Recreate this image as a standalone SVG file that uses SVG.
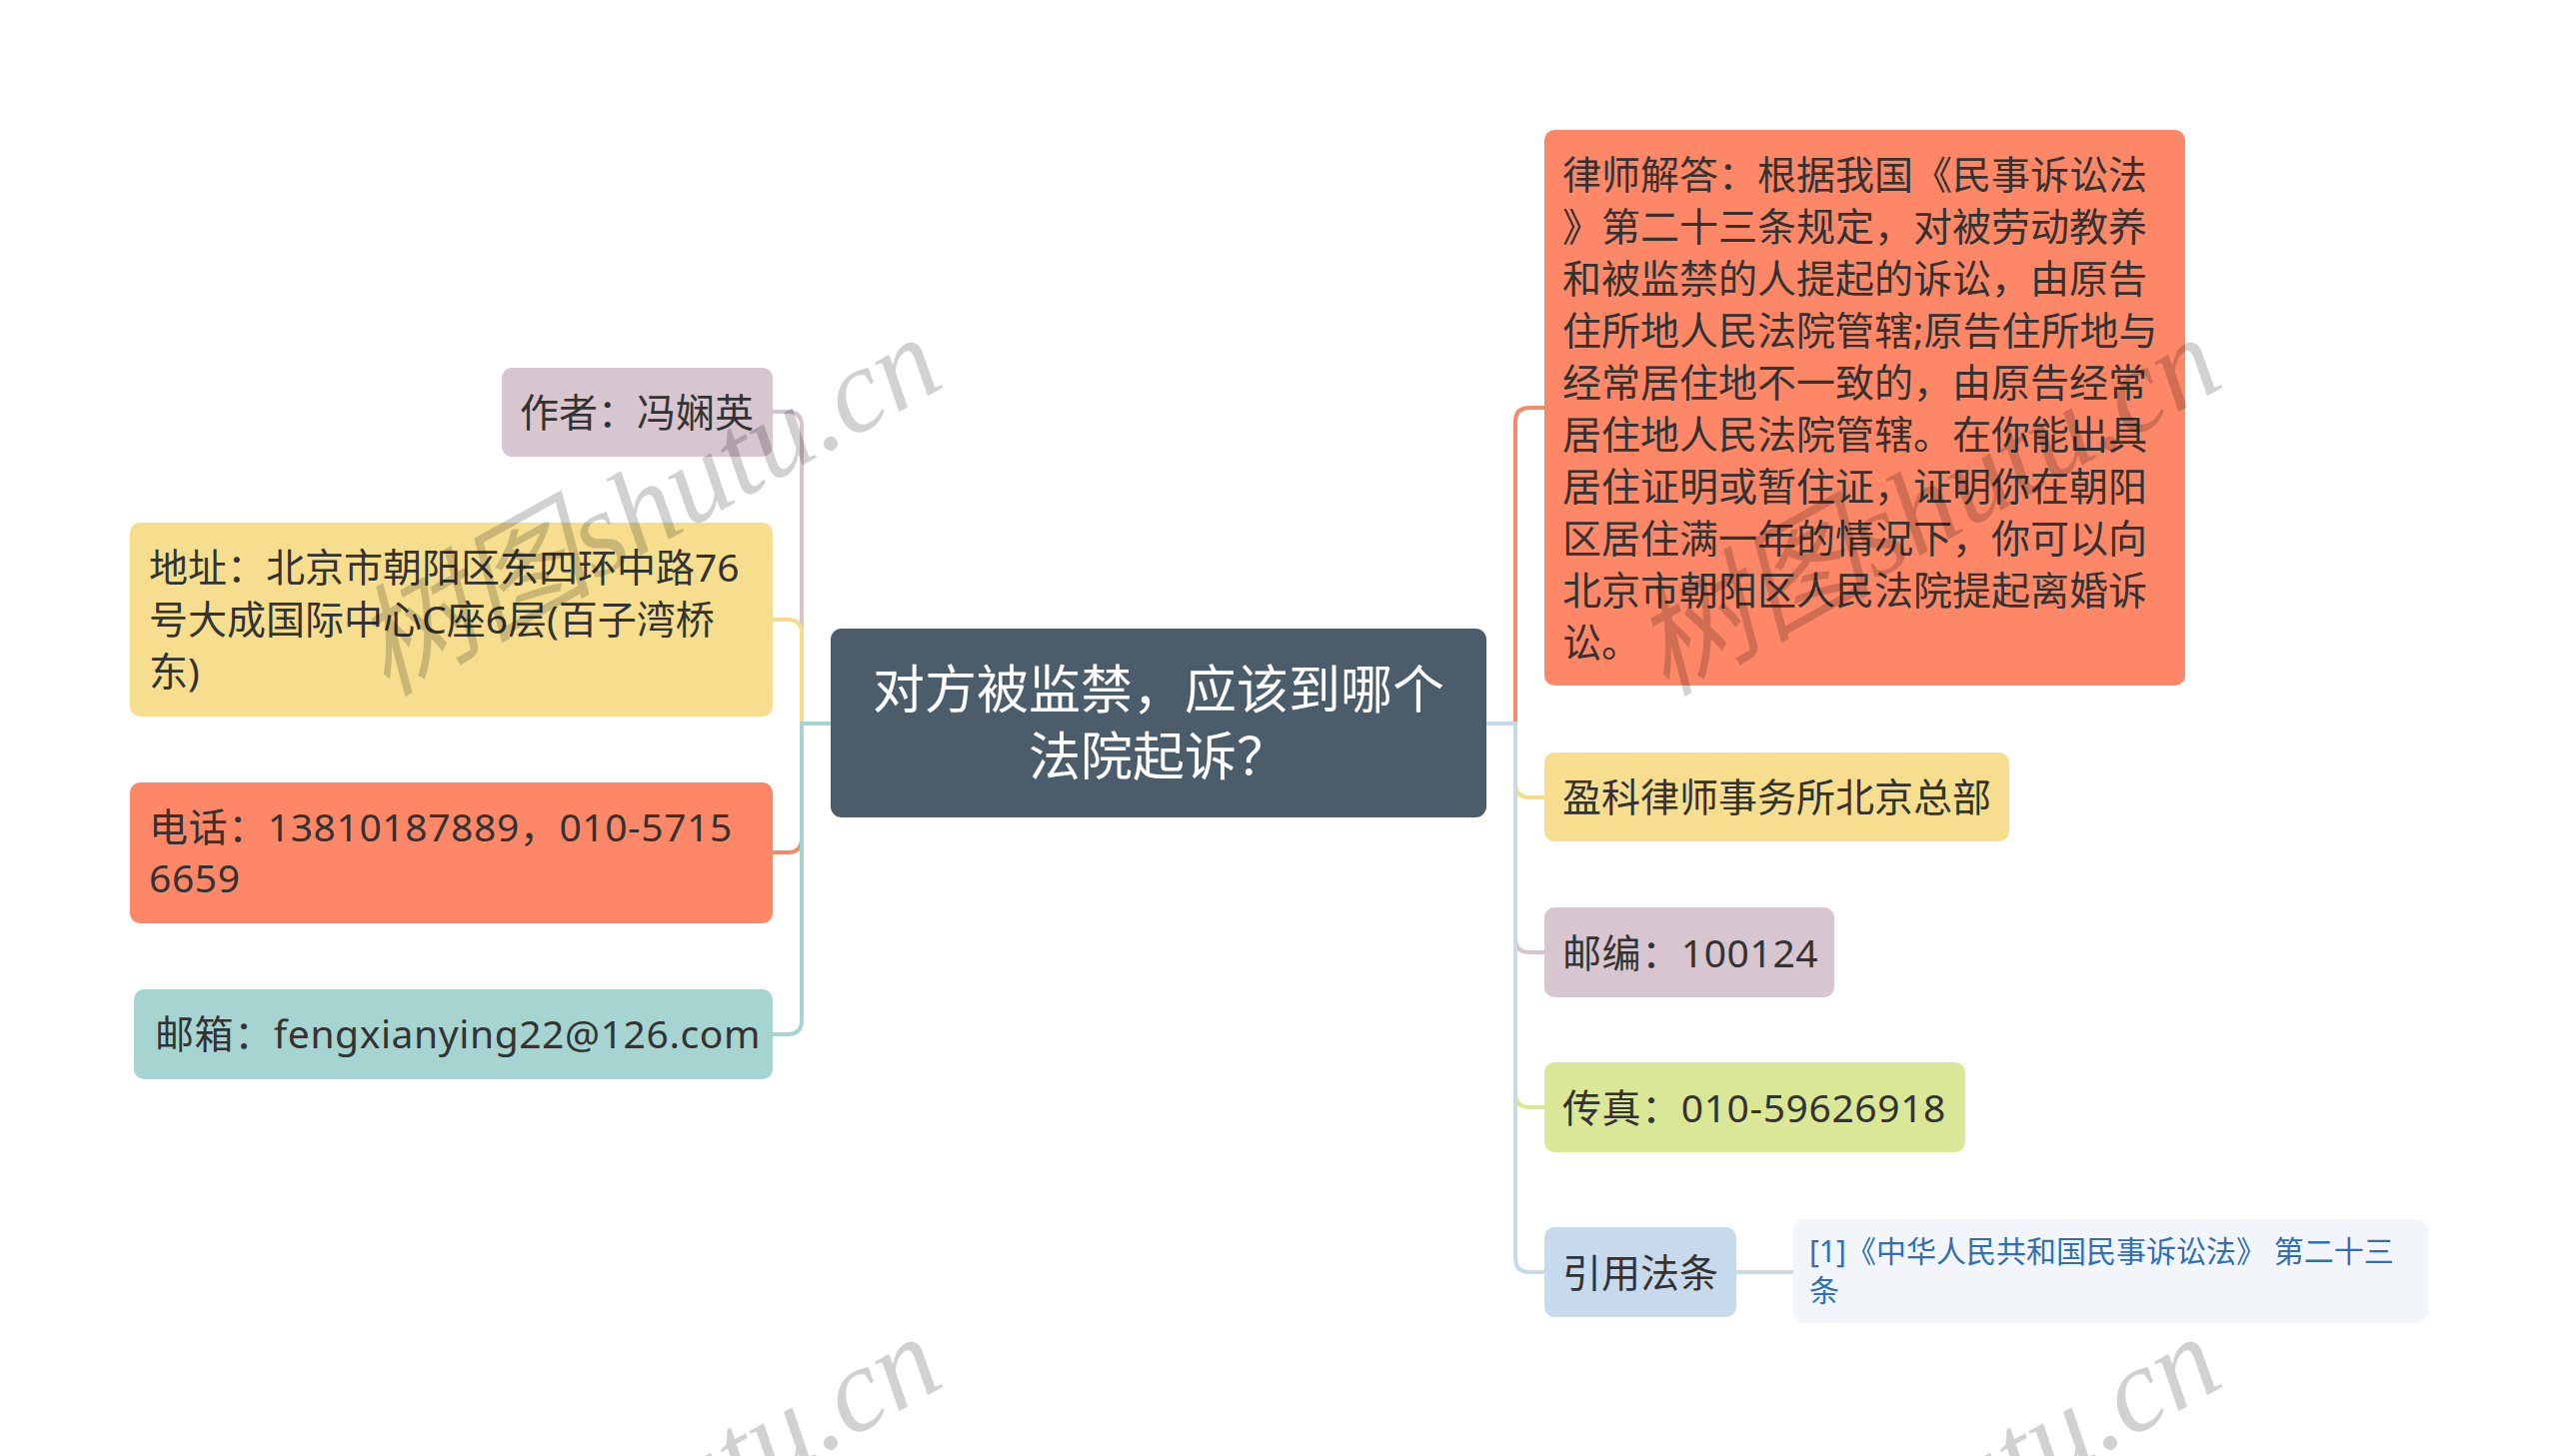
<svg xmlns="http://www.w3.org/2000/svg" width="2560" height="1457" viewBox="0 0 2560 1457">
<style>
.t{font-family:"Noto Sans","Noto Sans CJK SC",sans-serif;font-size:39px;fill:#333333}
.ls{letter-spacing:0.6px}
.root{font-family:"Noto Sans CJK SC","Noto Sans",sans-serif;font-size:52px;fill:#ffffff;text-anchor:middle}
.cite{font-family:"Noto Sans","Noto Sans CJK SC",sans-serif;font-size:30px;fill:#2f6fb3}
.c{fill:none;stroke-width:4;stroke-linecap:round;stroke-linejoin:round}
.wm{font-family:"Liberation Serif","Noto Sans CJK SC",serif;font-style:italic;font-size:120px;fill:#000000;fill-opacity:0.18;text-anchor:middle}
</style>
<rect width="2560" height="1457" fill="#ffffff"/>
<g id="connectors">
<path class="c" stroke="#d5c3cd" d="M831 724H802V426Q802 412 788 412H773"/>
<path class="c" stroke="#f6dd8c" d="M831 724H802V634Q802 620 788 620H773"/>
<path class="c" stroke="#f58a6b" d="M831 724H802V839Q802 853 788 853H773"/>
<path class="c" stroke="#a6d5d1" d="M831 724H802V1021Q802 1035 788 1035H773"/>
<path class="c" stroke="#f58a6b" d="M1487 724H1516V422Q1516 408 1530 408H1545"/>
<path class="c" stroke="#f6dd8c" d="M1487 724H1516V784Q1516 798 1530 798H1545"/>
<path class="c" stroke="#d5c3cd" d="M1487 724H1516V939Q1516 953 1530 953H1545"/>
<path class="c" stroke="#dae796" d="M1487 724H1516V1094Q1516 1108 1530 1108H1545"/>
<path class="c" stroke="#c7daeb" d="M1487 724H1516V1259Q1516 1273 1530 1273H1545"/>
<path class="c" stroke="#c7daeb" d="M1737 1273H1794"/>
</g>
<g id="root">
<rect x="831" y="629" width="656" height="189" rx="11" fill="#4b5c6b"/>
<text class="root" x="1159" y="709">对方被监禁，应该到哪个</text>
<text class="root" x="1159" y="776">法院起诉？</text>
</g>
<g id="author">
<rect x="502" y="368" width="271" height="89" rx="10" fill="#d7c5cf"/>
<text class="t" x="520" y="427">作者：冯娴英</text>
</g>
<g id="address">
<rect x="130" y="523" width="643" height="194" rx="10" fill="#f7de8e"/>
<text class="t" x="149" y="582">地址：北京市朝阳区东四环中路76</text>
<text class="t" x="149" y="634">号大成国际中心C座6层(百子湾桥</text>
<text class="t" x="149" y="686">东)</text>
</g>
<g id="phone">
<rect x="130" y="783" width="643" height="141" rx="10" fill="#fe8767"/>
<text class="t ls" x="149" y="842">电话：13810187889，010-5715</text>
<text class="t ls" x="149" y="893">6659</text>
</g>
<g id="email">
<rect x="134" y="990" width="639" height="90" rx="10" fill="#a6d5d1"/>
<text class="t ls" x="155" y="1049">邮箱：fengxianying22@126.com</text>
</g>
<g id="lawyer">
<rect x="1545" y="130" width="641" height="556" rx="10" fill="#fe8767"/>
<text class="t" x="1563" y="189">律师解答：根据我国《民事诉讼法</text>
<text class="t" x="1563" y="241">》第二十三条规定，对被劳动教养</text>
<text class="t" x="1563" y="293">和被监禁的人提起的诉讼，由原告</text>
<text class="t" x="1563" y="345">住所地人民法院管辖;原告住所地与</text>
<text class="t" x="1563" y="397">经常居住地不一致的，由原告经常</text>
<text class="t" x="1563" y="449">居住地人民法院管辖。在你能出具</text>
<text class="t" x="1563" y="501">居住证明或暂住证，证明你在朝阳</text>
<text class="t" x="1563" y="553">区居住满一年的情况下，你可以向</text>
<text class="t" x="1563" y="605">北京市朝阳区人民法院提起离婚诉</text>
<text class="t" x="1563" y="657">讼。</text>
</g>
<g id="yingke">
<rect x="1545" y="753" width="465" height="89" rx="10" fill="#f7de8e"/>
<text class="t" x="1563" y="812">盈科律师事务所北京总部</text>
</g>
<g id="postcode">
<rect x="1545" y="908" width="290" height="90" rx="10" fill="#d7c5cf"/>
<text class="t ls" x="1563" y="968">邮编：100124</text>
</g>
<g id="fax">
<rect x="1545" y="1063" width="421" height="90" rx="10" fill="#dae796"/>
<text class="t ls" x="1563" y="1123">传真：010-59626918</text>
</g>
<g id="law-ref">
<rect x="1545" y="1228" width="192" height="90" rx="10" fill="#c7daeb"/>
<text class="t" x="1563" y="1288">引用法条</text>
</g>
<g id="citation">
<rect x="1794" y="1220" width="635" height="104" rx="12" fill="#f2f6fa"/>
<text class="cite" x="1810" y="1263">[1]《中华人民共和国民事诉讼法》 第二十三</text>
<text class="cite" x="1810" y="1302">条</text>
</g>
<g id="watermarks">
<text class="wm" transform="translate(667 541) rotate(-29)">树图shutu.cn</text>
<text class="wm" transform="translate(1947 541) rotate(-29)">树图shutu.cn</text>
<text class="wm" transform="translate(667 1541) rotate(-29)">树图shutu.cn</text>
<text class="wm" transform="translate(1947 1541) rotate(-29)">树图shutu.cn</text>
</g>
</svg>
